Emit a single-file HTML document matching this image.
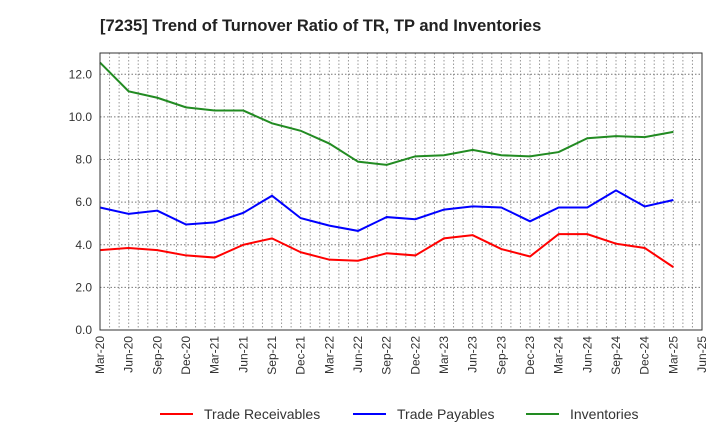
<!DOCTYPE html>
<html><head><meta charset="utf-8"><style>
body{margin:0;background:#fff;font-family:"Liberation Sans",sans-serif}
</style></head><body>
<svg width="720" height="440" xmlns="http://www.w3.org/2000/svg">
<text x="100" y="31" font-size="16.5" font-weight="bold" fill="#222">[7235]  Trend of Turnover Ratio of TR, TP and Inventories</text>
<g id="grid"></g>
<g id="axes"></g>
<g id="series"></g>
<rect x="100" y="53" width="602" height="277" fill="none" stroke="#333" stroke-width="1"/>
<g id="legend"></g>
</svg>
<script>
const categories=["Mar-20","Jun-20","Sep-20","Dec-20","Mar-21","Jun-21","Sep-21","Dec-21","Mar-22","Jun-22","Sep-22","Dec-22","Mar-23","Jun-23","Sep-23","Dec-23","Mar-24","Jun-24","Sep-24","Dec-24","Mar-25","Jun-25"];
const receivables=[3.75,3.85,3.75,3.5,3.4,4.0,4.3,3.65,3.3,3.25,3.6,3.5,4.3,4.45,3.8,3.45,4.5,4.5,4.05,3.85,2.95];
const payables=[5.75,5.45,5.6,4.95,5.05,5.5,6.3,5.25,4.9,4.65,5.3,5.2,5.65,5.8,5.75,5.1,5.75,5.75,6.55,5.8,6.1];
const inventories=[12.55,11.2,10.9,10.45,10.3,10.3,9.7,9.35,8.75,7.9,7.75,8.15,8.2,8.45,8.2,8.15,8.35,9.0,9.1,9.05,9.3];
const yTicks=[0,2,4,6,8,10,12];
const seriesNames=["Trade Receivables","Trade Payables","Inventories"];
const NS="http://www.w3.org/2000/svg";
const X0=100,X1=702,Y0=330,Y1=53,YMAX=13;
const step=(X1-X0)/(categories.length-1);
const xs=i=>X0+i*step;
const ys=v=>Y0-v/YMAX*(Y0-Y1);
function mk(t,a,p){const e=document.createElementNS(NS,t);for(const k in a)e.setAttribute(k,a[k]);p.appendChild(e);return e;}
const grid=document.getElementById('grid'),axes=document.getElementById('axes'),ser=document.getElementById('series'),leg=document.getElementById('legend');
for(let m=1;m<(categories.length-1)*3;m++){const x=X0+m*step/3;
const l=mk('line',{x1:x,x2:x,y1:Y1,y2:Y0,stroke:'#999','stroke-dasharray':'1.5,2','stroke-width':1},grid);

}
yTicks.forEach(v=>{const y=ys(v);
if(v>0){const g=mk('line',{x1:X0,x2:X1,y1:y,y2:y,stroke:'#777','stroke-dasharray':'1.5,2','stroke-width':1},grid);

}
const t=mk('text',{x:X0-8,y:y+4,'text-anchor':'end','font-size':12,fill:'#333'},axes);t.textContent=v.toFixed(1);

});
categories.forEach((c,i)=>{const x=xs(i);
const t=mk('text',{x:x+4,y:Y0+6,'text-anchor':'end','font-size':12,fill:'#333',transform:`rotate(-90 ${x+4} ${Y0+6})`},axes);t.textContent=c;

});
const data=[receivables,payables,inventories],cols=['#ff0000','#0000ff','#228b22'],names=['receivables-line','payables-line','inventories-line'];
data.forEach((d,k)=>{const p=mk('polyline',{points:d.map((v,i)=>xs(i)+','+ys(v)).join(' '),fill:'none',stroke:cols[k],'stroke-width':2},ser);

});
const lx=[160,353,526];
seriesNames.forEach((n,k)=>{const g=mk('g',{},leg);


mk('line',{x1:lx[k],x2:lx[k]+33,y1:414,y2:414,stroke:cols[k],'stroke-width':2},g);
const t=mk('text',{x:lx[k]+44,y:419,'font-size':14,fill:'#333'},g);t.textContent=n;});
</script>
</body></html>
